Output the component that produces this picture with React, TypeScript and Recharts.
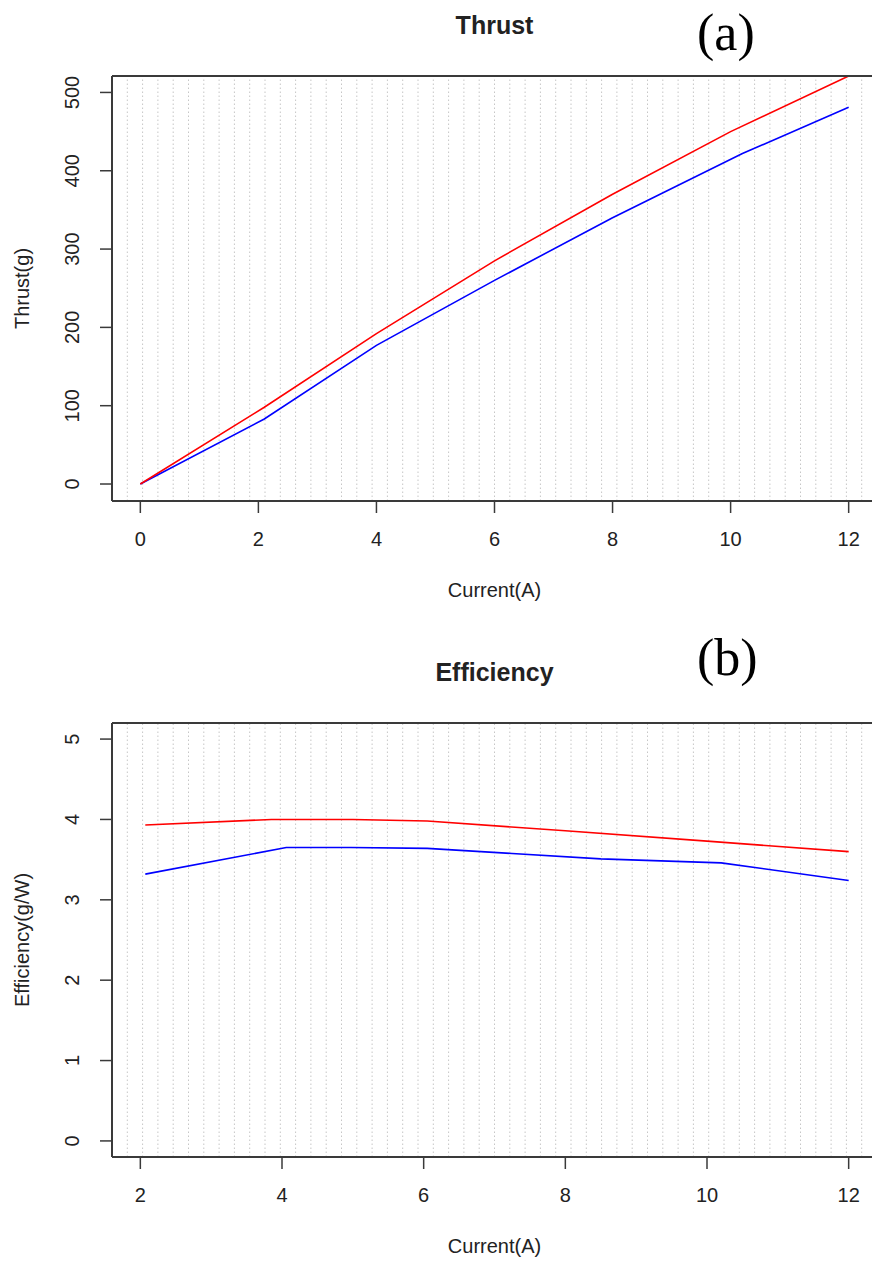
import React from "react";
import {
  LineChart,
  Line,
  XAxis,
  YAxis,
  ReferenceLine,
  Label,
} from "recharts";

// (a) thrust vs current
const thrustRedX = [0, 2.1, 4, 6, 8, 10, 12];
const thrustRedY = [0, 98, 192, 285, 370, 450, 521];
const thrustBlueX = [0, 2.1, 4, 6, 8, 10.2, 12];
const thrustBlueY = [0, 83, 177, 260, 340, 422, 481];

// (b) efficiency vs current
const effRedX = [2.07, 3.85, 5.0, 6.05, 8, 10, 12];
const effRedY = [3.93, 4.0, 4.0, 3.98, 3.86, 3.73, 3.6];
const effBlueX = [2.07, 4.06, 4.97, 6.05, 8.5, 10.2, 12];
const effBlueY = [3.32, 3.65, 3.65, 3.64, 3.51, 3.46, 3.24];

const thrustXTicks = [0, 2, 4, 6, 8, 10, 12];
const thrustYTicks = [0, 100, 200, 300, 400, 500];
const effXTicks = [2, 4, 6, 8, 10, 12];
const effYTicks = [0, 1, 2, 3, 4, 5];

const FONT = "'Liberation Sans', Arial, Helvetica, sans-serif";
const INK = "#222";
const FRAME = "#3a3a3a";

// the R plot region is 765px wide; the page crops its right edge
const PLOT_W = 765;
const SVG_W = 900;

const toPoints = (xs: number[], ys: number[]) => xs.map((x, i) => ({ x, y: ys[i] }));

// grid(nx = 50) in R: 49 dotted lines splitting the x range evenly
const gridXs = (d: [number, number]) => {
  const out: number[] = [];
  for (let k = 1; k < 50; k++) out.push(d[0] + ((d[1] - d[0]) * k) / 50);
  return out;
};

const YTick = ({ x, y, payload }: any) => {
  const cx = x - 26;
  return (
    <text
      x={cx}
      y={y}
      transform={`rotate(-90 ${cx} ${y})`}
      textAnchor="middle"
      dominantBaseline="central"
      fontSize={20}
      fontFamily={FONT}
      fill={INK}
    >
      {payload.value}
    </text>
  );
};

const YTitle = ({ viewBox, value }: any) => {
  const cy = viewBox.y + viewBox.height / 2;
  return (
    <text
      x={22}
      y={cy}
      transform={`rotate(-90 22 ${cy})`}
      textAnchor="middle"
      dominantBaseline="central"
      fontSize={20}
      fontFamily={FONT}
      fill={INK}
    >
      {value}
    </text>
  );
};

interface PanelProps {
  top: number;
  height: number;
  plotTop: number;
  plotBottom: number;
  xDomain: [number, number];
  yDomain: [number, number];
  xTicks: number[];
  yTicks: number[];
  red: { x: number; y: number }[];
  blue: { x: number; y: number }[];
  title: string;
  tag: string;
  tagTop: number;
  yTitle: string;
}

function Panel(p: PanelProps) {
  const xAxisH = p.height - p.plotBottom;
  // stretch the domain so the plot runs on past the crop at the same scale
  const unit = PLOT_W / (p.xDomain[1] - p.xDomain[0]);
  const xMax = p.xDomain[1] + (SVG_W - 112 - PLOT_W) / unit;
  const domain: [number, number] = [p.xDomain[0], xMax];
  return (
    <div style={{ position: "absolute", left: 0, top: p.top, width: SVG_W, height: p.height }}>
      <div
        style={{
          position: "absolute",
          left: 112,
          width: PLOT_W,
          top: p.plotTop - 65,
          textAlign: "center",
          fontFamily: FONT,
          fontWeight: "bold",
          fontSize: 25,
          color: INK,
        }}
      >
        {p.title}
      </div>
      <div
        style={{
          position: "absolute",
          left: 697,
          top: p.tagTop,
          fontFamily: "'Liberation Serif', 'Times New Roman', serif",
          fontSize: 52,
          color: "#000",
          lineHeight: "60px",
        }}
      >
        {p.tag}
      </div>
      <LineChart
        width={SVG_W}
        height={p.height}
        margin={{ top: p.plotTop, right: 0, bottom: 0, left: 0 }}
        style={{ position: "absolute", left: 0, top: 0 }}
      >
        <XAxis
          type="number"
          dataKey="x"
          domain={domain}
          ticks={p.xTicks}
          allowDataOverflow
          height={xAxisH}
          tickSize={12}
          tickMargin={19}
          axisLine={false}
          tickLine={{ stroke: FRAME, strokeWidth: 1.5 }}
          tick={{ fontSize: 20, fontFamily: FONT, fill: INK }}
        >
          <Label
            value="Current(A)"
            position="insideTop"
            offset={82}
            dx={(PLOT_W - (SVG_W - 112)) / 2}
            style={{ fontSize: 20, fontFamily: FONT, fill: INK }}
          />
        </XAxis>
        <YAxis
          type="number"
          domain={p.yDomain}
          ticks={p.yTicks}
          allowDataOverflow
          width={112}
          tickSize={12}
          axisLine={false}
          tickLine={{ stroke: FRAME, strokeWidth: 1.5 }}
          tick={<YTick />}
        >
          <Label content={<YTitle value={p.yTitle} />} />
        </YAxis>
        {gridXs(p.xDomain).map((gx) => (
          <ReferenceLine
            key={gx}
            x={gx}
            stroke="#c6c6c6"
            strokeWidth={1}
            strokeDasharray="1.5 2.5"
          />
        ))}
        <Line
          data={p.blue}
          dataKey="y"
          type="linear"
          stroke="#0000ff"
          strokeWidth={1.6}
          dot={false}
          isAnimationActive={false}
        />
        <Line
          data={p.red}
          dataKey="y"
          type="linear"
          stroke="#ff0000"
          strokeWidth={1.6}
          dot={false}
          isAnimationActive={false}
        />
        {/* box(): top, bottom and left sides; the right side lies past the crop */}
        <ReferenceLine y={p.yDomain[1]} stroke={FRAME} strokeWidth={2} ifOverflow="visible" />
        <ReferenceLine y={p.yDomain[0]} stroke={FRAME} strokeWidth={2} ifOverflow="visible" />
        <ReferenceLine x={domain[0]} stroke={FRAME} strokeWidth={2} ifOverflow="visible" />
      </LineChart>
    </div>
  );
}

export default function App() {
  return (
    <div
      style={{
        position: "absolute",
        left: 0,
        top: 0,
        width: 872,
        height: 1266,
        overflow: "hidden",
        background: "#fff",
      }}
    >
      <Panel
        top={0}
        height={620}
        plotTop={76}
        plotBottom={501}
        xDomain={[-0.48, 12.48]}
        yDomain={[-21.7, 521]}
        xTicks={thrustXTicks}
        yTicks={thrustYTicks}
        red={toPoints(thrustRedX, thrustRedY)}
        blue={toPoints(thrustBlueX, thrustBlueY)}
        title="Thrust"
        tag="(a)"
        tagTop={3}
        yTitle="Thrust(g)"
      />
      <Panel
        top={630}
        height={636}
        plotTop={93}
        plotBottom={527}
        xDomain={[1.6, 12.4]}
        yDomain={[-0.2, 5.2]}
        xTicks={effXTicks}
        yTicks={effYTicks}
        red={toPoints(effRedX, effRedY)}
        blue={toPoints(effBlueX, effBlueY)}
        title="Efficiency"
        tag="(b)"
        tagTop={-2}
        yTitle="Efficiency(g/W)"
      />
    </div>
  );
}
